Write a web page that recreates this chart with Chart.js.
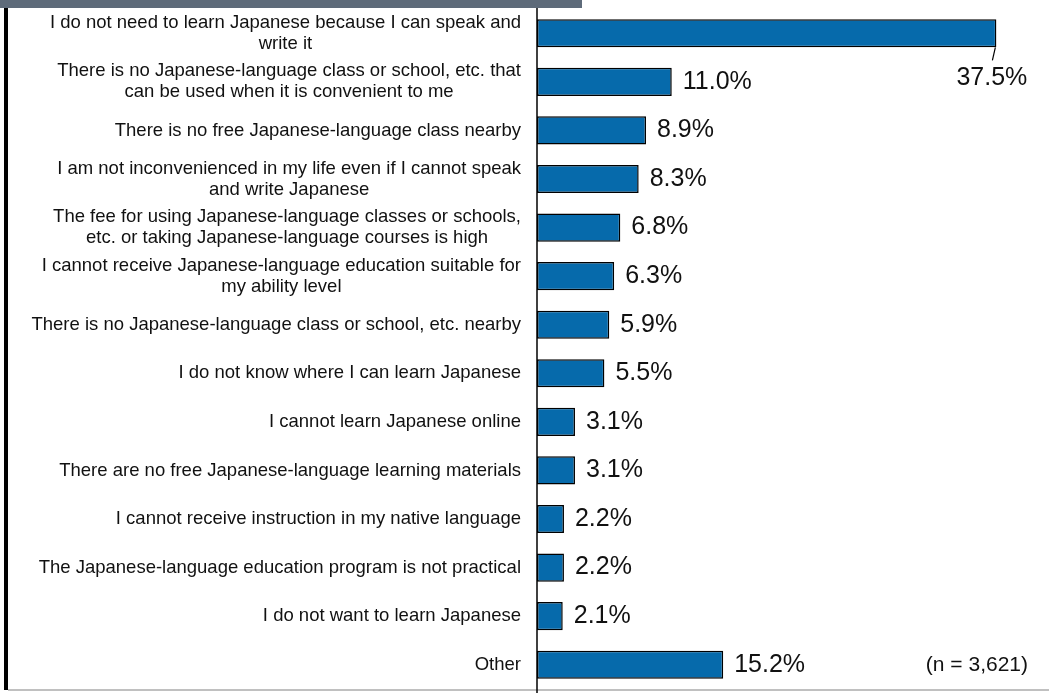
<!DOCTYPE html>
<html>
<head>
<meta charset="utf-8">
<script src="https://cdn.jsdelivr.net/npm/chart.js@4.4.1/dist/chart.umd.min.js"></script>
<style>
  html, body { margin: 0; padding: 0; background: #ffffff; }
  #wrap { width: 1049px; height: 693px; position: relative; }
</style>
</head>
<body>
<div id="wrap"><canvas id="barChart"></canvas></div>
<script>
//Reasons for not studying Japanese (multiple answers)
var reasons = [
  ["I do not need to learn Japanese because I can speak and", "write it"],
  ["There is no Japanese-language class or school, etc. that", "can be used when it is convenient to me"],
  ["There is no free Japanese-language class nearby"],
  ["I am not inconvenienced in my life even if I cannot speak", "and write Japanese"],
  ["The fee for using Japanese-language classes or schools,", "etc. or taking Japanese-language courses is high"],
  ["I cannot receive Japanese-language education suitable for", "my ability level"],
  ["There is no Japanese-language class or school, etc. nearby"],
  ["I do not know where I can learn Japanese"],
  ["I cannot learn Japanese online"],
  ["There are no free Japanese-language learning materials"],
  ["I cannot receive instruction in my native language"],
  ["The Japanese-language education program is not practical"],
  ["I do not want to learn Japanese"],
  ["Other"]
];
var percents = [37.5, 11.0, 8.9, 8.3, 6.8, 6.3, 5.9, 5.5, 3.1, 3.1, 2.2, 2.2, 2.1, 15.2];
var sampleNote = "(n = 3,621)";
var xMax = 40;

var labelFont = "18.5px 'Liberation Sans', Arial, sans-serif";
var valueFont = "25px 'Liberation Sans', Arial, sans-serif";

//Frame pieces: top band, left rule, bottom rule, vertical axis
var framePlugin = {
  id: 'frame',
  beforeDraw: function(chart){
    var ctx = chart.ctx;
    ctx.save();
    ctx.fillStyle = '#5e6b7a';
    ctx.fillRect(0, 0, 582, 8);
    ctx.fillStyle = '#000000';
    ctx.fillRect(4, 8, 4, 682);
    ctx.fillStyle = '#c0c0c0';
    ctx.fillRect(8, 689, 1041, 2);
    ctx.restore();
  },
  afterDatasetsDraw: function(chart){
    var ctx = chart.ctx;
    var x0 = chart.scales.x.getPixelForValue(0);
    ctx.save();
    ctx.strokeStyle = '#000000';
    ctx.lineWidth = 1.5;
    ctx.beginPath();
    ctx.moveTo(x0, 8);
    ctx.lineTo(x0, 693);
    ctx.stroke();
    ctx.restore();
  }
};

//Category text on the left, values next to the bars
var textPlugin = {
  id: 'texts',
  afterDraw: function(chart){
    var ctx = chart.ctx;
    var xs = chart.scales.x, ys = chart.scales.y;
    var right = xs.getPixelForValue(0) - 16;
    var lineH = 21;
    ctx.save();
    ctx.fillStyle = '#111111';
    ctx.textBaseline = 'middle';

    ctx.font = labelFont;
    for(var i = 0; i < reasons.length; i++){
      var lines = reasons[i];
      var yc = ys.getPixelForValue(i);
      var top = yc - (lines.length - 1) * lineH / 2;
      var w0 = ctx.measureText(lines[0]).width;
      var mid = right - w0 / 2;
      for(var j = 0; j < lines.length; j++){
        if(j == 0){
          ctx.textAlign = 'right';
          ctx.fillText(lines[j], right, top);
        } else {
          ctx.textAlign = 'center';
          ctx.fillText(lines[j], mid, top + j * lineH);
        }
      }
    }

    ctx.font = valueFont;
    ctx.textAlign = 'left';
    for(var k = 0; k < percents.length; k++){
      var xe = xs.getPixelForValue(percents[k]);
      var y = ys.getPixelForValue(k);
      var txt = percents[k].toFixed(1) + "%";
      if(k == 0){
        //longest bar: label sits below with a short leader line
        var bar = chart.getDatasetMeta(0).data[0];
        var bottom = y + bar.height / 2;
        ctx.strokeStyle = '#000000';
        ctx.lineWidth = 1.2;
        ctx.beginPath();
        ctx.moveTo(xe - 1, bottom);
        ctx.lineTo(xe - 4, bottom + 13);
        ctx.stroke();
        ctx.fillText(txt, xe - 40, bottom + 31);
      } else {
        ctx.fillText(txt, xe + 11, y);
      }
    }

    ctx.font = "21px 'Liberation Sans', Arial, sans-serif";
    ctx.textAlign = 'right';
    ctx.fillText(sampleNote, 1028, ys.getPixelForValue(percents.length - 1));
    ctx.restore();
  }
};

function initChart(){
  var ctx = document.getElementById('barChart').getContext('2d');
  var myBarChart = new Chart(ctx, {
    type: 'bar',
    data: {
      labels: reasons,
      datasets: [{
        data: percents,
        backgroundColor: '#066aab',
        borderColor: '#000000',
        borderWidth: 1.5,
        borderSkipped: false,
        barPercentage: 0.58,
        categoryPercentage: 1.0
      }]
    },
    options: {
      indexAxis: 'y',
      responsive: true,
      maintainAspectRatio: false,
      animation: false,
      layout: { padding: { left: 537, right: 22, top: 9, bottom: 4 } },
      plugins: {
        legend: { display: false },
        tooltip: { enabled: false }
      },
      scales: {
        x: { display: false, min: 0, max: xMax },
        y: { display: false }
      }
    },
    plugins: [framePlugin, textPlugin]
  });
}

window.onload = initChart;
</script>
</body>
</html>
